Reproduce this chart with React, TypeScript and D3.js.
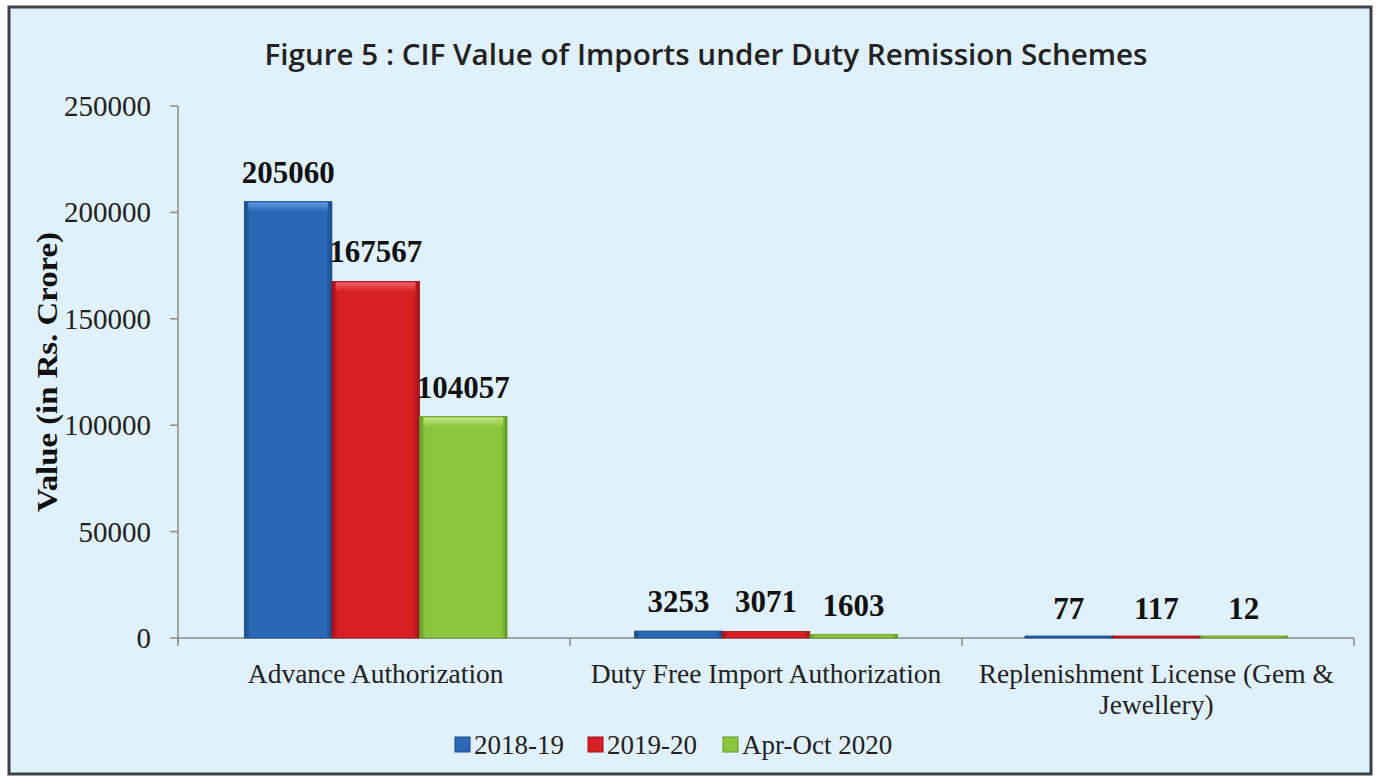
import React, { useEffect, useRef } from 'react';
import * as d3 from 'd3';

// Chart data
const categories = ['Advance Authorization', 'Duty Free Import Authorization', 'Replenishment License (Gem & Jewellery)'];
const seriesNames = ['2018-19', '2019-20', 'Apr-Oct 2020'];
const values2018 = [205060, 3253, 77];
const values2019 = [167567, 3071, 117];
const valuesAprOct = [104057, 1603, 12];
const yTicks = [0, 50000, 100000, 150000, 200000, 250000];

const seriesColors = [
  { base: '#2a67b4', light: '#5e9be0', dark: '#174a8c' },
  { base: '#d71f26', light: '#f06468', dark: '#9c1118' },
  { base: '#8cc63f', light: '#c0e47e', dark: '#5f9a22' },
];

const App = () => {
  const svgRef = useRef<SVGSVGElement>(null);

  useEffect(() => {
    document.body.style.margin = '0';
    if (!svgRef.current) return;
    const svg = d3.select(svgRef.current);
    svg.selectAll('*').remove();

    const width = 1379;
    const height = 776;
    const left = 178, right = 1354, top = 106, bottom = 638;
    const serif = '"Liberation Serif", "Times New Roman", serif';

    // frame
    svg.append('rect').attr('x', 0).attr('y', 0).attr('width', width).attr('height', height).attr('fill', '#ffffff');
    svg.append('rect')
      .attr('x', 9).attr('y', 7).attr('width', 1362).attr('height', 767)
      .attr('fill', '#e0f1fb').attr('stroke', '#3d4044').attr('stroke-width', 3);

    // gradients for bevelled bars
    const defs = svg.append('defs');
    seriesColors.forEach((c, i) => {
      const gh = defs.append('linearGradient').attr('id', `gh${i}`).attr('x1', 0).attr('x2', 1).attr('y1', 0).attr('y2', 0);
      gh.append('stop').attr('offset', '0%').attr('stop-color', c.dark);
      gh.append('stop').attr('offset', '7%').attr('stop-color', c.base);
      gh.append('stop').attr('offset', '93%').attr('stop-color', c.base);
      gh.append('stop').attr('offset', '100%').attr('stop-color', c.dark);
      const gt = defs.append('linearGradient').attr('id', `gt${i}`).attr('x1', 0).attr('x2', 0).attr('y1', 0).attr('y2', 1);
      gt.append('stop').attr('offset', '0%').attr('stop-color', c.light);
      gt.append('stop').attr('offset', '100%').attr('stop-color', c.base);
    });

    // title
    svg.append('text')
      .attr('x', 706).attr('y', 65)
      .attr('text-anchor', 'middle')
      .attr('textLength', 883)
      .attr('lengthAdjust', 'spacingAndGlyphs')
      .style('font-family', '"Open Sans", sans-serif')
      .style('font-weight', 600)
      .style('font-size', '29px')
      .attr('fill', '#222')
      .text('Figure 5 : CIF Value of Imports under Duty Remission Schemes');

    // scales
    const x0 = d3.scaleBand<string>()
      .domain(categories)
      .range([left, right])
      .paddingInner(0.327)
      .paddingOuter(0.17);
    const x1 = d3.scaleBand<string>()
      .domain(seriesNames)
      .range([0, x0.bandwidth()]);
    const y = d3.scaleLinear().domain([0, 250000]).range([bottom, top]);

    // y axis
    const yAxis = svg.append('g');
    yAxis.append('line').attr('x1', left).attr('x2', left).attr('y1', top).attr('y2', bottom + 4)
      .attr('stroke', '#8a8a8a').attr('stroke-width', 1.5);
    yTicks.forEach(t => {
      yAxis.append('line').attr('x1', left - 8).attr('x2', left).attr('y1', y(t)).attr('y2', y(t))
        .attr('stroke', '#8a8a8a').attr('stroke-width', 1.5);
      yAxis.append('text')
        .attr('x', 151).attr('y', y(t) + 10)
        .attr('text-anchor', 'end')
        .style('font-family', serif)
        .style('font-size', '29px')
        .attr('fill', '#222')
        .text(t);
    });

    // y axis title
    svg.append('text')
      .attr('transform', `translate(57,${(top + bottom) / 2}) rotate(-90)`)
      .attr('text-anchor', 'middle')
      .attr('textLength', 280)
      .attr('lengthAdjust', 'spacingAndGlyphs')
      .style('font-family', serif)
      .style('font-weight', 'bold')
      .style('font-size', '29px')
      .attr('fill', '#111')
      .text('Value (in Rs. Crore)');

    // x axis
    svg.append('line').attr('x1', left).attr('x2', right).attr('y1', bottom).attr('y2', bottom)
      .attr('stroke', '#8a8a8a').attr('stroke-width', 1.5);
    const step = (right - left) / categories.length;
    [0, 1, 2, 3].forEach(i => {
      const xt = left + i * step;
      svg.append('line').attr('x1', xt).attr('x2', xt).attr('y1', bottom).attr('y2', bottom + 8)
        .attr('stroke', '#8a8a8a').attr('stroke-width', 1.5);
    });

    // bars
    const allSeries = [values2018, values2019, valuesAprOct];
    categories.forEach((cat, ci) => {
      const g = svg.append('g').attr('transform', `translate(${x0(cat)},0)`);
      seriesNames.forEach((s, si) => {
        const v = allSeries[si][ci];
        const bx = x1(s) as number;
        const bw = x1.bandwidth();
        const by = y(v);
        const bh = Math.max(bottom - by, 2);
        g.append('rect')
          .attr('x', bx).attr('y', bottom - bh).attr('width', bw).attr('height', bh)
          .attr('fill', `url(#gh${si})`)
          .attr('stroke', seriesColors[si].dark).attr('stroke-width', 0.8);
        if (bh > 20) {
          g.append('rect')
            .attr('x', bx + 4).attr('y', bottom - bh + 1).attr('width', bw - 8).attr('height', 9)
            .attr('fill', `url(#gt${si})`);
        }
        g.append('text')
          .attr('x', bx + bw / 2).attr('y', by - 19)
          .attr('text-anchor', 'middle')
          .style('font-family', serif)
          .style('font-weight', 'bold')
          .style('font-size', '31px')
          .attr('fill', '#111')
          .text(v);
      });
    });

    // category labels
    categories.forEach(cat => {
      const cx = (x0(cat) as number) + x0.bandwidth() / 2;
      const lines = cat === categories[2] ? ['Replenishment License (Gem &', 'Jewellery)'] : [cat];
      lines.forEach((ln, li) => {
        svg.append('text')
          .attr('x', cx).attr('y', 683 + li * 31)
          .attr('text-anchor', 'middle')
          .style('font-family', serif)
          .style('font-size', '27.5px')
          .attr('fill', '#222')
          .text(ln);
      });
    });

    // legend
    const legendX = [455, 588, 723];
    seriesNames.forEach((s, i) => {
      const c = seriesColors[i];
      svg.append('rect')
        .attr('x', legendX[i]).attr('y', 737).attr('width', 15).attr('height', 15)
        .attr('fill', c.base).attr('stroke', c.dark).attr('stroke-width', 1);
      svg.append('text')
        .attr('x', legendX[i] + 19).attr('y', 754)
        .style('font-family', serif)
        .style('font-size', '27px')
        .attr('fill', '#222')
        .text(s);
    });
  }, []);

  return <svg ref={svgRef} width={1379} height={776} style={{ display: 'block' }} />;
};

export default App;
